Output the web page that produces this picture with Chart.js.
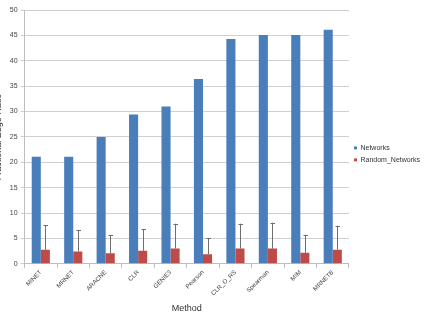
<!DOCTYPE html>
<html><head><meta charset="utf-8">
<script src="https://cdn.jsdelivr.net/npm/chart.js@4/dist/chart.umd.min.js"></script>
<style>
html,body{margin:0;padding:0;background:#fff;overflow:hidden;}
#wrap{position:absolute;left:-7px;top:0;width:437px;height:314px;}
</style></head>
<body><div id="wrap"><canvas id="c"></canvas></div>
<script>
const methods = ["MINET","MRNET","ARACNE","CLR","GENIE3","Pearson","CLR_O_RS","Spearman","MIM","MRNETB"];
const networks = [21.1,21.1,25.0,29.4,31.0,36.4,44.3,45.1,45.1,46.1];
const randomNetworks = [2.77,2.43,2.1,2.57,3.0,1.9,3.0,3.0,2.17,2.77];
const randomUpper = [7.65,6.7,5.67,6.78,7.9,5.08,7.9,8.1,5.73,7.5];
const yTicks = [0,5,10,15,20,25,30,35,40,45,50];

const errorBars = {
  id:'errorBars',
  afterDatasetsDraw(chart){
    const meta = chart.getDatasetMeta(1);
    const y = chart.scales.y;
    const ctx = chart.ctx;
    ctx.save();
    ctx.strokeStyle = '#6e6e6e';
    ctx.lineWidth = 1;
    meta.data.forEach((bar,i)=>{
      const x = Math.round(bar.x)+0.5;
      const top = y.getPixelForValue(randomUpper[i]);
      const base = y.getPixelForValue(randomNetworks[i]);
      ctx.beginPath();
      ctx.moveTo(x,base); ctx.lineTo(x,top);
      ctx.moveTo(x-2,Math.round(top)+0.5); ctx.lineTo(x+2.5,Math.round(top)+0.5);
      ctx.stroke();
    });
    ctx.restore();
  }
};

new Chart(document.getElementById('c'),{
  type:'bar',
  data:{labels:methods,datasets:[
    {label:'Networks',data:networks,backgroundColor:'#4a7ebb',categoryPercentage:0.56,barPercentage:1.0},
    {label:'Random_Networks',data:randomNetworks,backgroundColor:'#be4b48',categoryPercentage:0.56,barPercentage:1.0}
  ]},
  options:{
    responsive:true,maintainAspectRatio:false,animation:false,
    layout:{padding:{top:10,right:0,bottom:0,left:0}},
    plugins:{
      tooltip:{enabled:false},
      legend:{position:'right',align:'start',
        title:{display:true,text:'',padding:{top:115,bottom:0}},
        labels:{boxWidth:3,boxHeight:3,padding:5,color:'#333',font:{family:'Liberation Sans',size:7}}}
    },
    scales:{
      x:{
        grid:{display:true,offset:true,drawOnChartArea:false,tickLength:4,color:'#bdbdbd'},
        border:{color:'#bdbdbd'},
        ticks:{maxRotation:45,minRotation:45,color:'#444',font:{family:'Liberation Sans',size:6.2},padding:1},
        title:{display:true,text:'Method',color:'#333',font:{family:'Liberation Sans',size:9},padding:{top:5,bottom:0}}
      },
      y:{
        min:0,max:50,
        afterBuildTicks(s){s.ticks = yTicks.map(v=>({value:v}));},
        grid:{color:'#d0d0d0',tickLength:4},
        border:{color:'#bdbdbd'},
        ticks:{color:'#444',font:{family:'Liberation Sans',size:7},padding:3},
        title:{display:true,text:'Fractional Edge Ratio',color:'#333',font:{family:'Liberation Sans',size:9},padding:{top:0,bottom:3}}
      }
    }
  },
  plugins:[errorBars]
});
</script></body></html>
